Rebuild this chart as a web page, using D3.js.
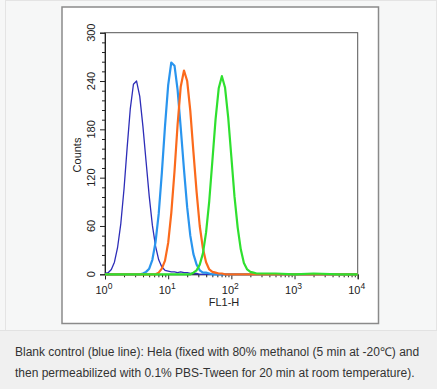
<!DOCTYPE html>
<html>
<head>
<meta charset="utf-8">
<script src="https://cdn.jsdelivr.net/npm/d3@7"></script>
<style>
  body { margin: 0; background: #f6f7f7; }
  svg { display: block; font-family: Arial, "Liberation Sans", Helvetica, sans-serif; }
</style>
</head>
<body>
<div id="chart"></div>
<script>
// DATA

// FL1-H channel positions (log spaced), shared by all series
const fl1 = [1, 1.12, 1.26, 1.41, 1.58, 1.78, 2, 2.24, 2.51, 2.82,
    3.16, 3.55, 3.98, 4.47, 5.01, 5.62, 6.31, 7.08, 7.94, 8.91,
    10, 11.2, 12.6, 14.1, 15.8, 17.8, 20, 22.4, 25.1, 28.2,
    31.6, 35.5, 39.8, 44.7, 50.1, 56.2, 63.1, 70.8, 79.4, 89.1,
    100, 112, 126, 141, 158, 178, 200, 224, 251, 282,
    316, 500, 1000, 2000, 5000, 10000];

const blank_counts = [1, 2, 6, 15, 33, 63, 106, 157, 205, 236,
    240, 221, 184, 140, 97, 61, 35, 18, 9, 5,
    4, 3, 3, 2, 3, 2, 2, 1, 1, 1,
    0, 0, 0, 0, 0, 0, 0, 0, 0, 0,
    0, 0, 0, 0, 0, 0, 0, 0, 0, 0,
    0, 0, 0, 0, 0, 0];

const lightblue_counts = [0, 0, 0, 0, 0, 0, 0, 0, 0, 0,
    0, 0, 1, 3, 7, 18, 40, 75, 126, 184,
    235, 263, 259, 229, 182, 130, 83, 48, 25, 12,
    5, 2, 2, 1, 0, 0, 0, 0, 0, 0,
    0, 0, 0, 0, 0, 0, 0, 0, 0, 0,
    0, 0, 0, 0, 0, 0];

const orange_counts = [0, 0, 0, 0, 0, 0, 0, 0, 0, 0,
    0, 0, 0, 0, 0, 0, 0, 2, 7, 17,
    39, 76, 128, 186, 233, 253, 240, 203, 152, 102,
    60, 32, 15, 6, 3, 2, 1, 1, 0, 0,
    0, 0, 0, 0, 0, 0, 0, 0, 0, 0,
    0, 0, 0, 0, 0, 0];

const green_counts = [0, 0, 0, 0, 0, 0, 0, 0, 0, 0,
    0, 0, 0, 0, 0, 0, 0, 0, 0, 0,
    0, 0, 0, 0, 0, 0, 0, 0, 2, 5,
    12, 26, 52, 91, 141, 192, 231, 246, 232, 195,
    146, 97, 58, 31, 14, 6, 3, 2, 1, 1,
    1, 1, 0, 1, 0, 0];

const y_ticks = [0, 60, 120, 180, 240, 300];
const x_decades = [0, 1, 2, 3, 4];

const caption_lines = [
    'Blank control (blue line): Hela (fixed with 80% methanol (5 min at -20℃) and',
    'then permeabilized with 0.1% PBS-Tween for 20 min at room temperature).'
];

// CONFIG

const width = 437,
    height = 389;

const plot = { left: 105, right: 357.7, top: 32.7, bottom: 274.3 };

const series = [
    { counts: blank_counts, color: '#2d2db8', width: 1.3 },
    { counts: lightblue_counts, color: '#2a95ee', width: 2.2 },
    { counts: orange_counts, color: '#fb6a1c', width: 2.2 },
    { counts: green_counts, color: '#2fe02f', width: 2.2 }
];

// D3

const svg = d3.select('#chart')
    .append('svg')
    .attr('width', width)
    .attr('height', height);

// page frame + caption box
svg.append('rect')
    .attr('x', 5.5).attr('y', 0.5)
    .attr('width', width - 6).attr('height', 330)
    .attr('fill', '#f6f7f7')
    .attr('stroke', '#e4e4e4');

svg.append('rect')
    .attr('x', 0).attr('y', 330)
    .attr('width', width).attr('height', height - 330)
    .attr('fill', '#f0f0f0');

svg.append('line')
    .attr('x1', 0).attr('x2', width)
    .attr('y1', 330.5).attr('y2', 330.5)
    .attr('stroke', '#e2e2e2');

// image frame
svg.append('rect')
    .attr('x', 62).attr('y', 7)
    .attr('width', 316.5).attr('height', 316.5)
    .attr('fill', '#ffffff')
    .attr('stroke', '#8a8a8a')
    .attr('stroke-width', 1.5);

const x_scale = d3.scaleLog()
    .domain([1, 10000])
    .range([plot.left, plot.right]);

const y_scale = d3.scaleLinear()
    .domain([0, 300])
    .range([plot.bottom, plot.top]);

// plot box
svg.append('rect')
    .attr('x', plot.left).attr('y', plot.top)
    .attr('width', plot.right - plot.left)
    .attr('height', plot.bottom - plot.top)
    .attr('fill', 'none')
    .attr('stroke', '#555')
    .attr('stroke-width', 1);

// x axis ticks
const x_minor = [];
x_decades.slice(0, -1).forEach(k => {
    for (let m = 2; m <= 9; m++) x_minor.push(m * Math.pow(10, k));
});

svg.append('g')
    .attr('transform', `translate(0, ${plot.bottom})`)
    .call(d3.axisBottom(x_scale).tickValues(x_minor).tickSize(3).tickFormat(''))
    .call(g => g.select('.domain').remove())
    .selectAll('line').attr('stroke', '#222');

svg.append('g')
    .attr('transform', `translate(0, ${plot.bottom})`)
    .call(d3.axisBottom(x_scale).tickValues(x_decades.map(k => Math.pow(10, k))).tickSize(5).tickFormat(''))
    .call(g => g.select('.domain').attr('stroke', '#222'))
    .selectAll('line').attr('stroke', '#222');

const x_labels = svg.append('g')
    .selectAll('text')
    .data(x_decades)
    .enter()
    .append('text')
    .attr('x', d => x_scale(Math.pow(10, d)) - 1)
    .attr('y', 294)
    .attr('text-anchor', 'middle')
    .attr('font-size', 11)
    .attr('fill', '#222');

x_labels.append('tspan').text('10');
x_labels.append('tspan')
    .attr('dy', -5)
    .attr('font-size', 8.5)
    .text(d => d);

svg.append('text')
    .attr('x', 224)
    .attr('y', 306)
    .attr('text-anchor', 'middle')
    .attr('font-size', 11)
    .attr('fill', '#222')
    .text('FL1-H');

// y axis ticks
const y_minor = d3.range(0, 301, 12).filter(v => v % 60 !== 0);

svg.append('g')
    .attr('transform', `translate(${plot.left}, 0)`)
    .call(d3.axisLeft(y_scale).tickValues(y_minor).tickSize(3).tickFormat(''))
    .call(g => g.select('.domain').remove())
    .selectAll('line').attr('stroke', '#222');

svg.append('g')
    .attr('transform', `translate(${plot.left}, 0)`)
    .call(d3.axisLeft(y_scale).tickValues(y_ticks).tickSize(5).tickFormat(''))
    .call(g => g.select('.domain').attr('stroke', '#222'))
    .selectAll('line').attr('stroke', '#222');

svg.append('g')
    .selectAll('text')
    .data(y_ticks)
    .enter()
    .append('text')
    .attr('transform', d => `translate(95, ${y_scale(d)}) rotate(-90)`)
    .attr('text-anchor', 'middle')
    .attr('font-size', 11)
    .attr('fill', '#222')
    .text(d => d);

svg.append('text')
    .attr('transform', 'translate(81, 155) rotate(-90)')
    .attr('text-anchor', 'middle')
    .attr('font-size', 11)
    .attr('fill', '#222')
    .text('Counts');

// histograms
const line = d3.line()
    .x((d, i) => x_scale(fl1[i]))
    .y(d => y_scale(d))
    .curve(d3.curveLinear);

svg.append('g')
    .selectAll('path')
    .data(series)
    .enter()
    .append('path')
    .attr('d', d => line(d.counts))
    .attr('fill', 'none')
    .attr('stroke', d => d.color)
    .attr('stroke-width', d => d.width)
    .attr('stroke-linejoin', 'round');

// caption
svg.append('g')
    .selectAll('text')
    .data(caption_lines)
    .enter()
    .append('text')
    .attr('x', 15)
    .attr('y', (d, i) => 356 + i * 21)
    .attr('font-size', 12)
    .attr('fill', '#333')
    .text(d => d);
</script>
</body>
</html>
